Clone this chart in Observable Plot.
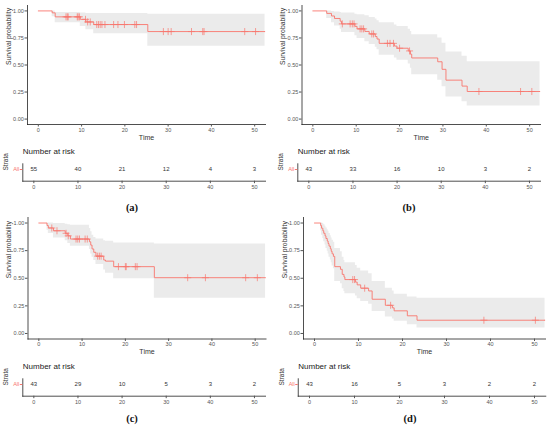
<!DOCTYPE html>
<html><head><meta charset="utf-8">
<script src="https://cdn.jsdelivr.net/npm/d3@7"></script>
<script src="https://cdn.jsdelivr.net/npm/@observablehq/plot@0.6"></script>
<style>
html,body{margin:0;padding:0;background:#fff;}
#root{position:relative;width:550px;height:427px;overflow:hidden;background:#fff;}
.piece{position:absolute;}
.lab{position:absolute;font-family:"Liberation Serif","DejaVu Serif",serif;font-weight:bold;font-size:10.5px;color:#111;transform:translate(-50%,-50%);white-space:nowrap;}
</style></head><body><div id="root"></div>
<script>
// ---- shared ticks ----
const timeTicks = [0, 10, 20, 30, 40, 50];
const survTicks = [0, 0.25, 0.5, 0.75, 1];
const riskTimes = [0, 10, 20, 30, 40, 50];
const strata = ["All"];

// ---- panel (a) ----
const aTime = [0, 3.2, 3.9, 9.7, 11.0, 12.8, 25.3, 52.4];
const aSurv = [1, 0.982, 0.945, 0.922, 0.898, 0.874, 0.809, 0.809];
const aLow  = [1, 0.947, 0.890, 0.855, 0.825, 0.790, 0.674, 0.674];
const aUp   = [1, 1, 0.985, 0.980, 0.977, 0.975, 0.970, 0.970];
const aCens = [6.4, 6.7, 6.9, 9.0, 9.2, 9.5, 10.9, 11.4, 12.0, 13.5, 13.9, 14.3, 14.7, 15.4, 17.4, 18.4, 19.9, 22.3, 22.7, 28.9, 30.0, 30.7, 35.4, 38.0, 38.3, 47.7, 50.2];
const aRisk = [55, 40, 21, 12, 4, 3];

// ---- panel (b) ----
const bTime = [0, 3.2, 4.3, 5.0, 6.3, 6.6, 9.7, 10.2, 12.0, 13.0, 14.4, 14.8, 15.3, 18.8, 19.4, 22.0, 22.5, 22.8, 28.8, 29.8, 30.7, 34.4, 35.6, 52.4];
const bSurv = [1, 0.977, 0.953, 0.930, 0.905, 0.880, 0.857, 0.834, 0.810, 0.787, 0.763, 0.740, 0.700, 0.675, 0.655, 0.630, 0.600, 0.565, 0.530, 0.460, 0.360, 0.305, 0.255, 0.255];
const bLow  = [1, 0.930, 0.890, 0.860, 0.830, 0.800, 0.770, 0.745, 0.715, 0.690, 0.665, 0.640, 0.590, 0.565, 0.545, 0.510, 0.470, 0.410, 0.360, 0.300, 0.205, 0.160, 0.120, 0.120];
const bUp   = [1, 1, 0.995, 0.990, 0.985, 0.980, 0.970, 0.965, 0.955, 0.940, 0.925, 0.910, 0.890, 0.870, 0.855, 0.830, 0.810, 0.780, 0.750, 0.700, 0.620, 0.580, 0.530, 0.530];
const bCens = [6.8, 8.6, 9.1, 9.5, 10.9, 11.3, 11.7, 13.6, 14.0, 17.2, 17.8, 18.6, 20.0, 22.3, 38.3, 47.9, 50.5];
const bRisk = [43, 33, 16, 10, 3, 2];

// ---- panel (c) ----
const cTime = [0, 1.9, 2.2, 3.4, 6.1, 6.7, 7.3, 11.7, 12.0, 12.3, 12.7, 13.2, 15.0, 15.4, 17.3, 26.7, 52.4];
const cSurv = [1, 0.977, 0.955, 0.930, 0.907, 0.884, 0.855, 0.830, 0.800, 0.765, 0.735, 0.700, 0.665, 0.655, 0.605, 0.505, 0.505];
const cLow  = [1, 0.935, 0.905, 0.865, 0.840, 0.815, 0.790, 0.760, 0.720, 0.690, 0.660, 0.625, 0.575, 0.545, 0.495, 0.320, 0.320];
const cUp   = [1, 1, 1, 0.995, 0.990, 0.985, 0.980, 0.950, 0.920, 0.890, 0.870, 0.855, 0.840, 0.835, 0.820, 0.810, 0.810];
const cCens = [3.0, 4.2, 6.3, 6.8, 8.6, 9.0, 9.4, 10.7, 11.2, 13.6, 14.0, 14.4, 18.4, 20.0, 20.2, 22.3, 22.7, 34.4, 38.5, 47.8, 50.5];
const cRisk = [43, 29, 10, 5, 3, 2];

// ---- panel (d) ----
const dTime = [0, 1.4, 1.6, 1.9, 2.1, 2.4, 2.6, 2.9, 3.1, 3.3, 3.6, 3.8, 4.0, 4.3, 4.6, 5.9, 6.3, 6.7, 6.9, 9.3, 9.7, 10.5, 12.3, 13.1, 16.1, 17.7, 18.1, 21.1, 23.3, 52.4];
const dSurv = [1, 0.977, 0.953, 0.930, 0.907, 0.884, 0.860, 0.837, 0.814, 0.791, 0.767, 0.744, 0.721, 0.698, 0.605, 0.581, 0.535, 0.512, 0.488, 0.465, 0.440, 0.410, 0.385, 0.310, 0.255, 0.232, 0.205, 0.160, 0.120, 0.120];
const dLow  = [1, 0.930, 0.890, 0.860, 0.830, 0.800, 0.770, 0.745, 0.720, 0.690, 0.665, 0.640, 0.610, 0.585, 0.470, 0.450, 0.405, 0.380, 0.360, 0.340, 0.315, 0.290, 0.265, 0.200, 0.150, 0.130, 0.110, 0.080, 0.050, 0.050];
const dUp   = [1, 1, 1, 0.995, 0.985, 0.970, 0.955, 0.940, 0.925, 0.905, 0.885, 0.865, 0.845, 0.825, 0.770, 0.740, 0.690, 0.660, 0.640, 0.615, 0.590, 0.565, 0.540, 0.470, 0.410, 0.385, 0.355, 0.330, 0.320, 0.320];
const dCens = [8.7, 9.1, 11.4, 17.3, 38.5, 50.2];
const dRisk = [43, 16, 5, 3, 2, 2];

// ---- layout (positions only) ----
const RED = "#F8766D";
const FONT = "'Liberation Sans', Arial, Helvetica, sans-serif";
const panels = [
  {label:"(a)", time:aTime, surv:aSurv, low:aLow, up:aUp, cens:aCens, risk:aRisk,
   left:0, top:0, mT:5, mB:18, mL:27, mR:10, tDy:13, rTop:143, rL:22.3, rR:10, labX:132, labY:207},
  {label:"(b)", time:bTime, surv:bSurv, low:bLow, up:bUp, cens:bCens, risk:bRisk,
   left:275, top:0, mT:5, mB:18, mL:26.5, mR:10, tDy:13, rTop:143, rL:22.3, rR:10, labX:409, labY:207},
  {label:"(c)", time:cTime, surv:cSurv, low:cLow, up:cUp, cens:cCens, risk:cRisk,
   left:0, top:213, mT:4, mB:16.5, mL:27.5, mR:9.5, tDy:12.5, rTop:358, rL:22.3, rR:10, labX:132, labY:418},
  {label:"(d)", time:dTime, surv:dSurv, low:dLow, up:dUp, cens:dCens, risk:dRisk,
   left:275, top:213, mT:4, mB:16.5, mL:28, mR:5, tDy:12.5, rTop:358, rL:22.75, rR:4.75, labX:410, labY:418}
];

const root = document.getElementById("root");

function place(el, left, top) {
  const w = document.createElement("div");
  w.className = "piece";
  w.style.left = left + "px";
  w.style.top = top + "px";
  w.appendChild(el);
  root.appendChild(w);
}

function drawPanel(p) {
  const rows = p.time.map((t, i) => ({t, s: p.surv[i], lo: p.low[i], hi: p.up[i]}));
  const survAt = (t) => { let s = 1; for (let i = 0; i < p.time.length; i++) if (p.time[i] <= t) s = p.surv[i]; return s; };
  const cens = p.cens.map(t => ({t, s: survAt(t)}));

  const main = Plot.plot({
    width: 275, height: 142,
    marginTop: p.mT, marginBottom: p.mB, marginLeft: p.mL, marginRight: p.mR,
    x: {domain: [-2.5, 52.5]},
    y: {domain: [-0.05, 1.05]},
    style: {fontFamily: FONT, fontSize: "5.5px", background: "transparent", overflow: "visible"},
    marks: [
      Plot.areaY(rows, {x: "t", y1: "lo", y2: "hi", curve: "step-after", fill: "#ebebeb"}),
      Plot.line(rows, {x: "t", y: "s", curve: "step-after", stroke: RED, strokeWidth: 0.9}),
      Plot.dot(cens, {x: "t", y: "s", symbol: "plus", r: 2.4, stroke: RED, strokeWidth: 0.7}),
      Plot.frame({anchor: "left", stroke: "#222", strokeWidth: 0.8}),
      Plot.frame({anchor: "bottom", stroke: "#222", strokeWidth: 0.8}),
      Plot.axisX(timeTicks, {tickSize: 2.5, tickPadding: 1, fontSize: 5.5, color: "#555", label: null}),
      Plot.axisY(survTicks, {tickSize: 2.5, tickPadding: 1.2, fontSize: 5.5, color: "#555", tickFormat: ".2f", label: null}),
      Plot.text(["Time"], {text: d => d, frameAnchor: "bottom", dy: p.tDy, fontSize: 7, fill: "#333", lineAnchor: "middle"}),
      Plot.text(["Survival probability"], {text: d => d, frameAnchor: "left", dx: -19, rotate: -90, fontSize: 6.8, fill: "#333", lineAnchor: "middle"})
    ]
  });
  place(main, p.left, p.top);

  const riskRows = riskTimes.map((t, i) => ({t, n: p.risk[i], g: strata[0]}));
  const risk = Plot.plot({
    width: 275, height: 52,
    marginTop: 20.3, marginBottom: 14.3, marginLeft: p.rL, marginRight: p.rR,
    x: {domain: [-2.5, 52.5]},
    y: {type: "point", domain: strata, align: 0.35},
    style: {fontFamily: FONT, fontSize: "5.5px", background: "transparent", overflow: "visible"},
    marks: [
      Plot.frame({anchor: "left", stroke: "#222", strokeWidth: 0.8}),
      Plot.frame({anchor: "bottom", stroke: "#222", strokeWidth: 0.8}),
      Plot.text(riskRows, {x: "t", y: "g", text: "n", fontSize: 6, fill: "#333"}),
      Plot.axisX(timeTicks, {tickSize: 2.5, tickPadding: 1, fontSize: 5.5, color: "#555", label: null}),
      Plot.axisY({tickSize: 2.5, tickPadding: 1, fontSize: 5.5, color: RED, label: null}),
      Plot.text(["Number at risk"], {text: d => d, frameAnchor: "top-left", dy: -12.3, textAnchor: "start", lineAnchor: "middle", fontSize: 8, fill: "#222"}),
      Plot.text(["Strata"], {text: d => d, frameAnchor: "left", dx: -16.5, dy: -2, rotate: -90, fontSize: 6.5, fill: "#333", lineAnchor: "middle"})
    ]
  });
  place(risk, p.left, p.rTop);

  const lab = document.createElement("div");
  lab.className = "lab";
  lab.textContent = p.label;
  lab.style.left = p.labX + "px";
  lab.style.top = p.labY + "px";
  root.appendChild(lab);
}

panels.forEach(drawPanel);
</script>
</body></html>
